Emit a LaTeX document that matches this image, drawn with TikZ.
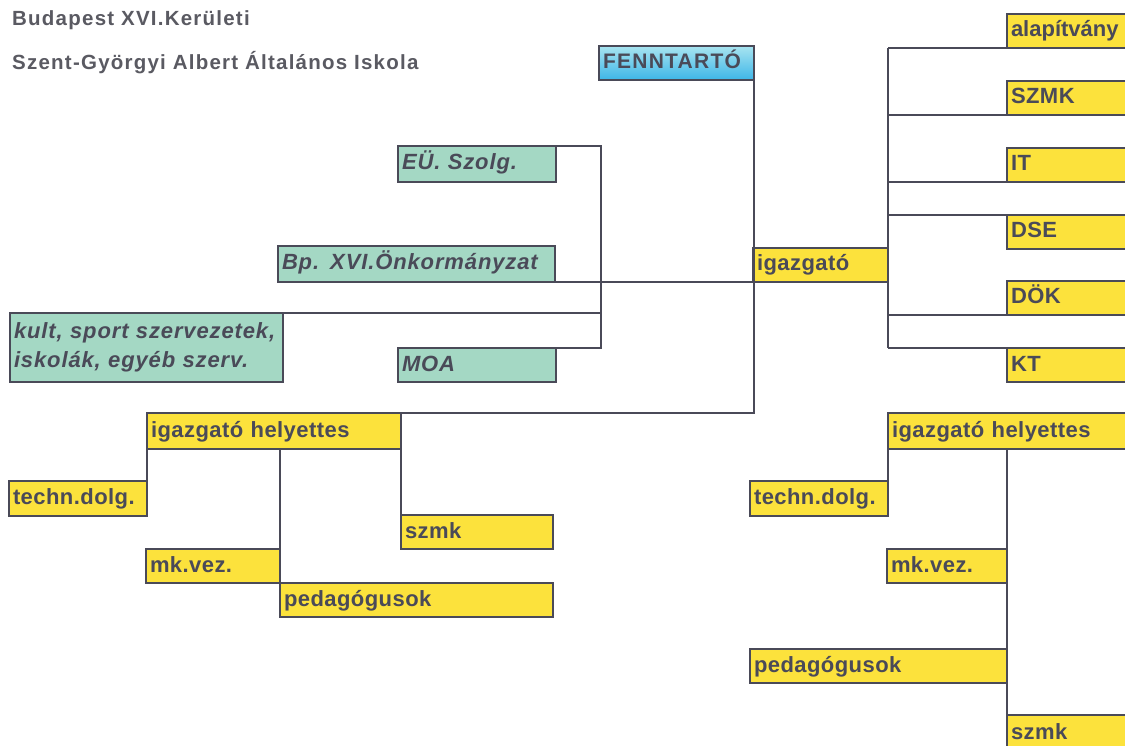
\documentclass[tikz,border=0pt]{standalone}
\usepackage{fontspec}
\setmainfont{Liberation Sans}
\newfontfamily\boxfont[LetterSpace=2]{Liberation Sans}
\newfontfamily\tealfont[LetterSpace=4]{Liberation Sans}
\newfontfamily\headfont[LetterSpace=6]{Liberation Sans}
\definecolor{ink}{HTML}{4A4A58}
\definecolor{headgray}{HTML}{5A5A62}
\definecolor{boxyel}{HTML}{FCE23C}
\definecolor{boxteal}{HTML}{A4D8C4}
\definecolor{fentop}{HTML}{A8E4F0}
\definecolor{fenbot}{HTML}{3DB6E8}
\tikzset{
  box/.style={draw=ink, line width=2.8pt, anchor=north west, outer sep=0pt, inner xsep=4pt, inner ysep=0pt, align=left, text=ink},
  yel/.style={box, fill=boxyel, minimum height=34pt, text height=16pt, text depth=4pt, font=\boxfont\bfseries\fontsize{22}{26}\selectfont},
  teal/.style={box, fill=boxteal, minimum height=36pt, text height=16pt, text depth=4pt, font=\tealfont\bfseries\itshape\fontsize{22}{26}\selectfont},
  fen/.style={box, top color=fentop, bottom color=fenbot, minimum height=34pt, text height=16pt, text depth=4pt, font=\headfont\bfseries\fontsize{21}{24}\selectfont},
  head/.style={anchor=base west, inner sep=0pt, text=headgray, font=\headfont\bfseries\fontsize{20.5}{23}\selectfont},
  link/.style={draw=ink, line width=2pt}
}
\begin{document}
\begin{tikzpicture}[x=1pt, y=-1pt]
\useasboundingbox (0,0) rectangle (1125,746);
\clip (0,0) rectangle (1125,746);
\fill[white] (0,0) rectangle (1125,746);
\node[head] (title1) at (12,26) {Budapest XVI.Kerületi};
\node[head] (title2) at (12,70) {Szent-Györgyi Albert Általános Iskola};
\node[fen, text width=147pt] (fenntarto) at (599,46) {FENNTARTÓ};
\node[teal, text width=150pt] (eu) at (398,146) {EÜ. Szolg.};
\node[teal, text width=269pt] (bp) at (278,246) {Bp. XVI.Önkormányzat};
\node[teal, text width=265pt, minimum height=69pt, text height=, text depth=, font=\tealfont\bfseries\itshape\fontsize{22}{29}\selectfont] (kult) at (10,313) {kult, sport szervezetek,\\iskolák, egyéb szerv.};
\node[teal, text width=150pt, minimum height=34pt] (moa) at (398,348) {MOA};
\node[yel, text width=127pt] (igazgato) at (753,248) {igazgató};
\node[yel, text width=132pt, font=\bfseries\fontsize{22}{26}\selectfont] (alap) at (1007,14) {alapítvány};
\node[yel, text width=132pt] (szmkA) at (1007,81) {SZMK};
\node[yel, text width=132pt] (it) at (1007,148) {IT};
\node[yel, text width=132pt] (dse) at (1007,215) {DSE};
\node[yel, text width=132pt] (dok) at (1007,281) {DÖK};
\node[yel, text width=132pt] (kt) at (1007,348) {KT};
\node[yel, text width=246pt, minimum height=36pt] (ighL) at (147,413) {igazgató helyettes};
\node[yel, text width=130pt, minimum height=35pt] (techL) at (9,481) {techn.dolg.};
\node[yel, text width=144pt] (szmkL) at (401,515) {szmk};
\node[yel, text width=126pt] (mkL) at (146,549) {mk.vez.};
\node[yel, text width=265pt] (pedL) at (280,583) {pedagógusok};
\node[yel, text width=242pt, minimum height=36pt] (ighR) at (888,413) {igazgató helyettes};
\node[yel, text width=130pt, minimum height=35pt] (techR) at (750,481) {techn.dolg.};
\node[yel, text width=112pt] (mkR) at (887,549) {mk.vez.};
\node[yel, text width=249pt] (pedR) at (750,649) {pedagógusok};
\node[yel, text width=132pt, minimum height=36pt] (szmkR) at (1007,715) {szmk};
\coordinate (bus) at (888,0);
\coordinate (lbus) at (601,0);
\draw[link] (fenntarto.south east) |- (ighL.north east);
\draw[link] (bp.south east) -- (igazgato.south west);
\draw[link] (eu.north east) -- (lbus |- eu.north east) -- (lbus |- moa.north east) -- (moa.north east);
\draw[link] (kult.north east) -- (lbus |- kult.north east);
\draw[link] (bus |- alap.south west) -- (bus |- kt.north west);
\draw[link] (bus |- alap.south west) -- (alap.south west);
\draw[link] (bus |- szmkA.south west) -- (szmkA.south west);
\draw[link] (bus |- it.south west) -- (it.south west);
\draw[link] (bus |- dse.north west) -- (dse.north west);
\draw[link] (bus |- dok.south west) -- (dok.south west);
\draw[link] (bus |- kt.north west) -- (kt.north west);
\draw[link] (ighL.south west) -- (techL.north east);
\draw[link] (mkL.north east |- ighL.south) -- (pedL.north west);
\draw[link] (ighL.north east) -- (szmkL.north west);
\draw[link] (ighR.south west) -- (techR.north east);
\draw[link] (mkR.north east |- ighR.south) -- (szmkR.north west);
\end{tikzpicture}
\end{document}
